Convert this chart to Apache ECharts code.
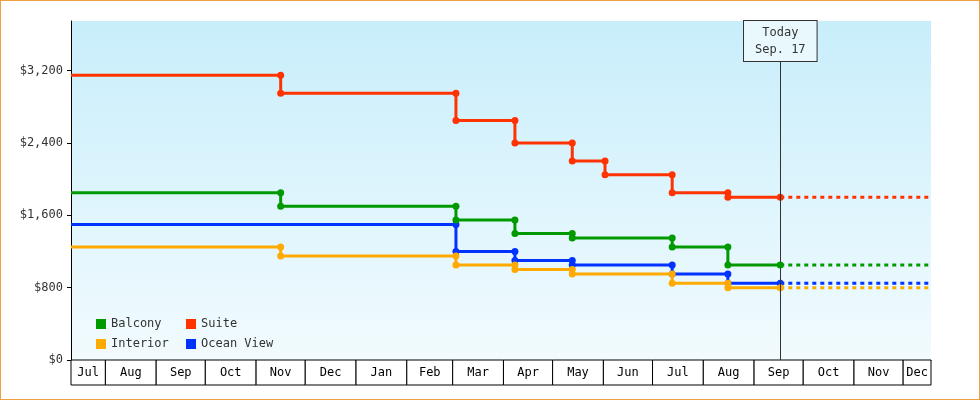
<!DOCTYPE html>
<html><head><meta charset="utf-8">
<script src="https://cdn.jsdelivr.net/npm/echarts@6/dist/echarts.min.js"></script>
<style>html,body{margin:0;padding:0}#c{width:980px;height:400px;box-sizing:border-box;border:1px solid #f0a040}</style>
</head><body><div id="c"></div>
<script>
var changeDates = ['2012-11-16','2013-03-03','2013-04-08','2013-05-13','2013-06-02','2013-07-13','2013-08-16'];
var startDate = '2012-07-11', todayDate = '2013-09-17', endDate = '2013-12-18';
var seriesNames = ['Balcony','Suite','Interior','Ocean View'];
var colors = ['#009900','#ff3300','#ffaa00','#0033ff'];
// price before first change, then price after each change (null = no change)
var balcony   = [1850, 1700, 1550, 1400, 1350, null, 1250, 1050];
var suite     = [3150, 2950, 2650, 2400, 2200, 2050, 1850, 1800];
var interior  = [1250, 1150, 1050, 1000, 950, null, 850, 800];
var oceanView = [1500, null, 1200, 1100, 1050, null, 950, 850];
var monthStarts = ['2012-07-11','2012-08-01','2012-09-01','2012-10-01','2012-11-01','2012-12-01','2013-01-01','2013-02-01','2013-03-01','2013-04-01','2013-05-01','2013-06-01','2013-07-01','2013-08-01','2013-09-01','2013-10-01','2013-11-01','2013-12-01','2013-12-18'];
var monthLabels = ['Jul','Aug','Sep','Oct','Nov','Dec','Jan','Feb','Mar','Apr','May','Jun','Jul','Aug','Sep','Oct','Nov','Dec'];

function build(vals){
  var pts=[[startDate, vals[0]]], cur=vals[0];
  for (var i=0;i<changeDates.length;i++){
    var v=vals[i+1]; if(v==null) continue;
    pts.push([changeDates[i],cur]); pts.push([changeDates[i],v]); cur=v;
  }
  pts.push([todayDate,cur]);
  return {pts:pts,last:cur};
}
var font='DejaVu Sans Mono';
var series=[];
[balcony,suite,interior,oceanView].forEach(function(v,i){
  var b=build(v);
  series.push({name:seriesNames[i],type:'line',data:b.pts.map(function(p,j){return j==0?{value:p,symbol:'none'}:p;}),color:colors[i],
    lineStyle:{width:3},symbol:'circle',symbolSize:7,showAllSymbol:true,animation:false,
    itemStyle:{color:colors[i]},z:5-i});
  series.push({name:seriesNames[i],type:'line',data:[[todayDate,b.last],[endDate,b.last]],
    lineStyle:{width:3,type:[4,4],color:colors[i]},symbol:'none',animation:false,z:5-i});
});
var monthData=monthLabels.map(function(l,i){return [monthStarts[i],monthStarts[i+1],l];});
series.push({type:'custom',data:monthData,clip:false,silent:true,animation:false,
  renderItem:function(params,api){
    var a=api.coord([api.value(0),0]), b=api.coord([api.value(1),0]);
    return {type:'group',children:[
      {type:'rect',shape:{x:a[0],y:a[1],width:b[0]-a[0],height:25},style:{fill:'#fff',stroke:'#000',lineWidth:1}},
      {type:'text',style:{x:(a[0]+b[0])/2,y:a[1]+13,text:monthData[params.dataIndex][2],textAlign:'center',textVerticalAlign:'middle',font:'12px '+font,fill:'#000'}}
    ]};
  },
  encode:{x:[0,1],y:2}});
series.push({type:'line',data:[],markLine:{silent:true,symbol:'none',animation:false,
  lineStyle:{color:'#333',width:1,type:'solid'},
  label:{show:true,position:'end',formatter:'Today\nSep. 17',fontFamily:font,fontSize:12,color:'#333',
    backgroundColor:'#e8f8fc',borderColor:'#333',borderWidth:1,padding:[3,11],lineHeight:17,distance:-40},
  data:[[{coord:[todayDate,0]},{coord:[todayDate,3750]}]]}});
var chart=echarts.init(document.getElementById('c'));
chart.setOption({
  textStyle:{fontFamily:font},
  grid:{left:70,right:48,top:20,bottom:39},
  graphic:[{type:'rect',z:-10,shape:{x:70,y:20,width:860,height:340},
    style:{fill:new echarts.graphic.LinearGradient(0,0,0,1,[{offset:0,color:'#c8eefb'},{offset:1,color:'#f2fbfe'}])}}],
  legend:[{data:['Balcony','Interior'],orient:'vertical',left:90,top:312,itemWidth:10,itemHeight:10,itemGap:8,icon:'rect',textStyle:{fontFamily:font,fontSize:12,color:'#333'}},
          {data:['Suite','Ocean View'],orient:'vertical',left:180,top:312,itemWidth:10,itemHeight:10,itemGap:8,icon:'rect',textStyle:{fontFamily:font,fontSize:12,color:'#333'}}],
  xAxis:{type:'time',min:startDate,max:endDate,axisLabel:{show:false},axisTick:{show:false},splitLine:{show:false},axisLine:{lineStyle:{color:'#000'}}},
  yAxis:{type:'value',min:0,max:3750,interval:800,splitLine:{show:false},
    axisLine:{show:true,lineStyle:{color:'#000'}},axisTick:{show:true,length:4},
    axisLabel:{fontFamily:font,fontSize:12,color:'#333',showMaxLabel:false,formatter:function(v){return v>3700?'':'$'+v.toLocaleString('en-US');}}},
  series:series
});
</script></body></html>
